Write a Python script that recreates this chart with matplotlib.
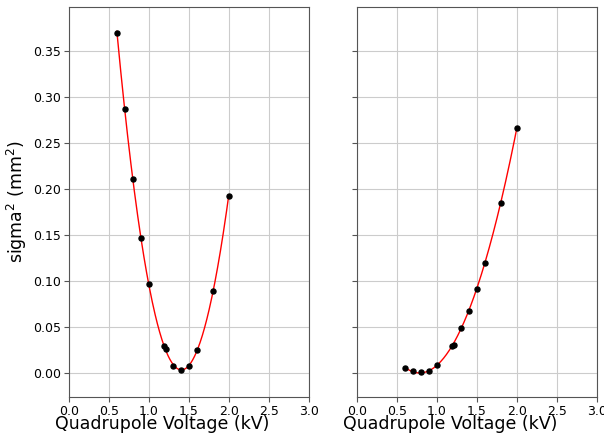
import numpy as np
import matplotlib.pyplot as plt

# Measured beam size vs quadrupole voltage
volt = [0.6, 0.7, 0.8, 0.9, 1.0, 1.19, 1.21, 1.3, 1.4, 1.5, 1.6, 1.8, 2.0]
sig_x = [0.370, 0.287, 0.211, 0.147, 0.097, 0.029, 0.026, 0.008, 0.003, 0.008, 0.025, 0.089, 0.193]
sig_y = [0.006, 0.002, 0.001, 0.002, 0.009, 0.029, 0.031, 0.049, 0.068, 0.092, 0.120, 0.185, 0.266]

fig, (ax1, ax2) = plt.subplots(1, 2, sharey=True, figsize=(6.04, 4.34), dpi=100)
fig.subplots_adjust(left=0.114, right=0.988, top=0.984, bottom=0.085, wspace=0.2)

vv = np.linspace(0.6, 2.0, 200)
for ax, s in [(ax1, sig_x), (ax2, sig_y)]:
    p = np.polyfit(volt, s, 3)
    ax.plot(vv, np.polyval(p, vv), color='red', lw=1, zorder=2)
    ax.scatter(volt, s, color='black', s=13, zorder=3)
    ax.set_xlim(0, 3)
    ax.set_xticks(np.arange(0, 3.01, 0.5))
    ax.grid(color='#cccccc', lw=0.8)
    ax.set_axisbelow(True)
    ax.set_xlabel("Quadrupole Voltage (kV)", fontsize=12.5)
    ax.xaxis.set_label_coords(0.39, -0.046)
    ax.tick_params(labelsize=9, color='#555555', pad=2)
    for sp in ax.spines.values():
        sp.set_color('#555555')

ax1.set_ylim(-0.026, 0.398)
ax1.set_yticks(np.arange(0, 0.36, 0.05))
ax1.set_ylabel("sigma$^2$ (mm$^2$)", fontsize=12.5, labelpad=3)

plt.savefig("out.png")
